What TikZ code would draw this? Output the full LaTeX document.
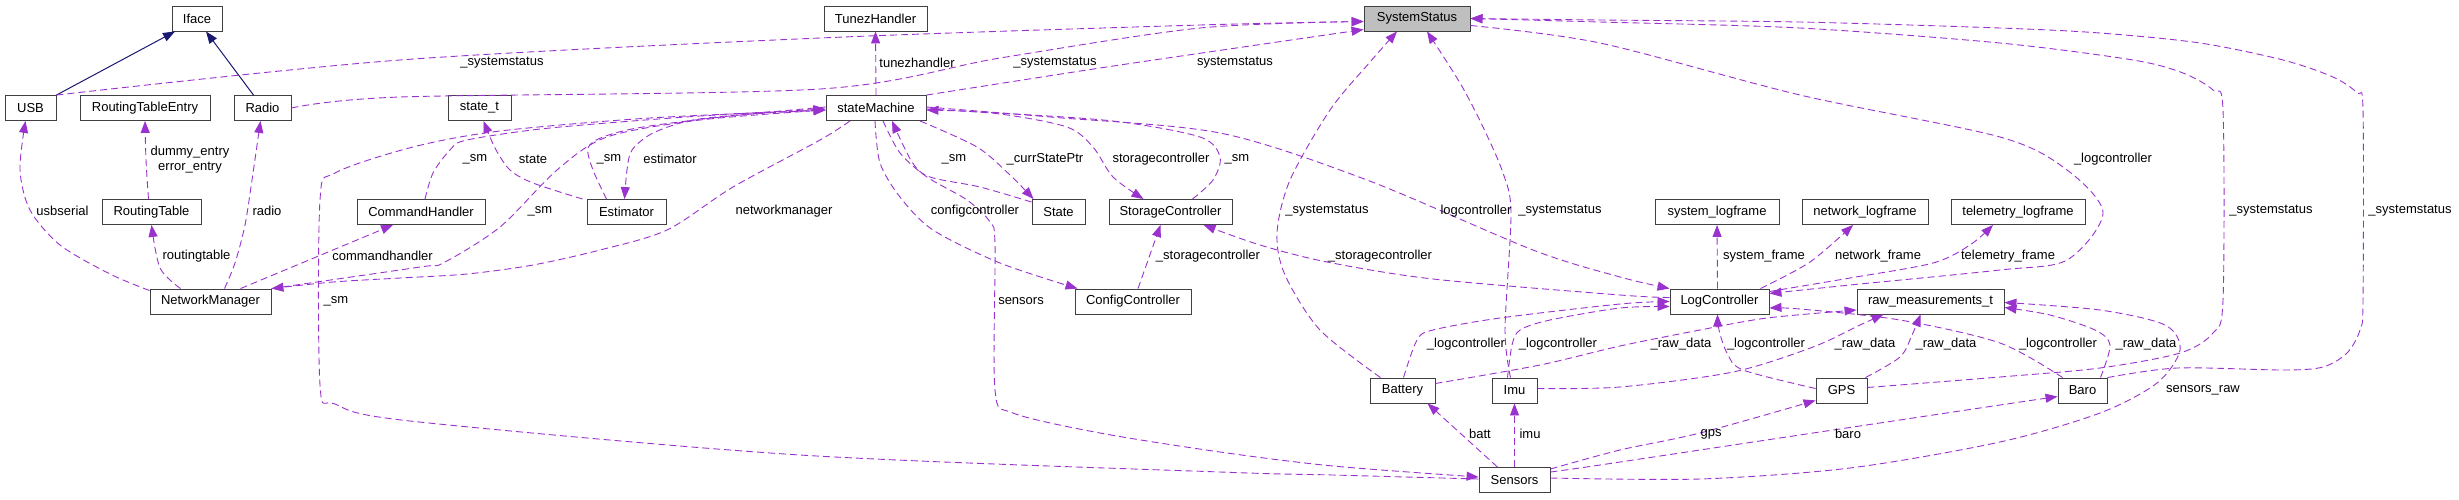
\documentclass[tikz,border=0pt]{standalone}
\usepackage{fontspec}
\setmainfont{Liberation Sans}
\usetikzlibrary{arrows.meta,calc}
\definecolor{dc}{HTML}{9A32CD}
\definecolor{ic}{HTML}{191970}
\begin{document}
\begin{tikzpicture}[x=1pt,y=-1pt, font=\fontsize{13}{15}\selectfont,
 box/.style={draw=black!75, line width=0.9pt, minimum height=25pt, inner sep=0pt},
 lbl/.style={inner sep=0pt, align=center},
 dep/.style={draw=dc, line width=0.9pt, dash pattern=on 7pt off 4pt, -{Triangle[length=12pt,width=9pt]}},
 inh/.style={draw=ic, line width=1pt, -{Triangle[length=12pt,width=9pt]}}]
\useasboundingbox (0,0) rectangle (2459,499);
% nodes
\node[box, minimum width=50pt] (Iface) at (197,18.5) {Iface};
\node[box, minimum width=51pt] (USB) at (30.5,108) {USB};
\node[box, minimum width=130pt] (RTE) at (145,108) {RoutingTableEntry};
\node[box, minimum width=57pt] (Radio) at (262.5,108) {Radio};
\node[box, minimum width=99pt] (RT) at (151.5,212) {RoutingTable};
\node[box, minimum width=121pt] (NM) at (210.5,301.5) {NetworkManager};
\node[box, minimum width=128pt] (CH) at (421,212) {CommandHandler};
\node[box, minimum width=63pt] (statet) at (479.5,108) {state\_t};
\node[box, minimum width=79pt] (Est) at (626.5,212) {Estimator};
\node[box, minimum width=103pt] (TH) at (875.5,18.5) {TunezHandler};
\node[box, minimum width=100pt] (SM) at (876,108) {stateMachine};
\node[box, minimum width=53pt] (State) at (1058.5,212) {State};
\node[box, minimum width=123pt] (StC) at (1170.5,212) {StorageController};
\node[box, minimum width=116pt] (CC) at (1133,301.5) {ConfigController};
\node[box, minimum width=106pt, fill=black!25] (SS) at (1417,18.5) {SystemStatus};
\node[box, minimum width=65pt] (Bat) at (1402.5,390.5) {Battery};
\node[box, minimum width=45pt] (Imu) at (1514.5,390.5) {Imu};
\node[box, minimum width=71pt] (Sen) at (1514.5,480) {Sensors};
\node[box, minimum width=124pt] (slf) at (1717,212) {system\_logframe};
\node[box, minimum width=126pt] (nlf) at (1865,212) {network\_logframe};
\node[box, minimum width=134pt] (tlf) at (2018,212) {telemetry\_logframe};
\node[box, minimum width=99pt] (LC) at (1719.5,301.5) {LogController};
\node[box, minimum width=147pt] (raw) at (1930.5,301.5) {raw\_measurements\_t};
\node[box, minimum width=51pt] (GPS) at (1841.5,390.5) {GPS};
\node[box, minimum width=49pt] (Baro) at (2082.5,390.5) {Baro};
% inheritance
\draw[inh] (USB.north east) -- ($(Iface.south)+(-22,0)$);
\draw[inh] ($(Radio.north)+(-9,0)$) -- ($(Iface.south)+(9,0)$);
% to SystemStatus
\draw[dep] plot[smooth] coordinates {(USB.north east) (400,60) (820,38) (1200,25) ($(SS.west)+(0,3)$)};
\draw[dep] plot[smooth] coordinates {(Radio.east) (400,97) (820,89) (1000,58) (1200,28) ($(SS.west)+(0,3)$)};
\draw[dep] plot[smooth] coordinates {(SM.north east) (1100,68) (1250,46) ($(SS.west)+(0,11)$)};
\draw[dep] plot[smooth] coordinates {($(Bat.north)+(-22,0)$) (1320,330) (1285,275) (1277,233) (1290,180) (1330,110) (1370,62) ($(SS.south)+(-20,0)$)};
\draw[dep] plot[smooth] coordinates {($(Imu.north)+(-4,0)$) (1505,330) (1511,213) (1503,173) (1483,127) (1460,83) ($(SS.south)+(10,0)$)};
\draw[dep] plot[smooth] coordinates {($(GPS.east)+(0,-3)$) (2000,377) (2100,368) (2180,353) (2213,333) (2223,300) (2223,110) (2213,90) (2183,73) (2133,60) (2000,43) (1800,28) (1600,22) (SS.east)};
\draw[dep] plot[smooth] coordinates {(Baro.north east) (2177,368) (2283,370) (2323,367) (2347,353) (2360,330) (2363,300) (2363,110) (2357,93) (2333,77) (2283,60) (2200,43) (2100,33) (2000,28) (1800,22) (1600,20) (SS.east)};
\draw[dep] plot[smooth] coordinates {($(SS.east)+(0,7)$) (1600,43) (1800,95) (2000,137) (2067,170) (2103,213) (2067,260) (2000,270) (1850,285) ($(LC.east)+(0,-8)$)};
% stateMachine neighbourhood
\draw[dep] (SM.north) -- (TH.south);
\draw[dep] plot[smooth] coordinates {($(RT.north)+(-3,0)$) (146,160) (RTE.south)};
\draw[dep] plot[smooth] coordinates {($(NM.north west)+(0,2)$) (110,274) (60,245) (30,210) (20,170) ($(USB.south)+(-5,0)$)};
\draw[dep] plot[smooth] coordinates {($(NM.north)+(-30,0)$) (160,268) (RT.south)};
\draw[dep] plot[smooth] coordinates {($(NM.north)+(14,0)$) (235,263) (245,225) (252,180) ($(Radio.south)+(-2,0)$)};
\draw[dep] ($(NM.north)+(30,0)$) -- ($(CH.south)+(-28,0)$);
\draw[dep] plot[smooth] coordinates {($(SM.south)+(-26,0)$) (820,140) (733,187) (667,230) (600,250) (533,265) (467,274) (400,278) (333,282) (NM.north east)};
\draw[dep] plot[smooth] coordinates {(NM.north east) (420,267) (443,263) (500,227) (557,170) (607,137) (700,120) ($(SM.west)+(0,2)$)};
\draw[dep] plot[smooth] coordinates {($(CH.north)+(4,0)$) (433,173) (450,150) (467,140) (550,128) (700,116) ($(SM.west)+(0,1)$)};
\draw[dep] plot[smooth] coordinates {($(Est.north)+(-20,0)$) (593,170) (588,148) (603,137) (643,127) (740,115) ($(SM.west)+(0,2)$)};
\draw[dep] plot[smooth] coordinates {($(SM.west)+(0,-1)$) (760,113) (693,120) (653,133) (632,150) (627,170) ($(Est.north)+(-2,0)$)};
\draw[dep] plot[smooth] coordinates {($(Est.north west)+(-4,0)$) (533,183) (510,170) (495,148) ($(statet.south)+(4,0)$)};
\draw[dep] plot[smooth] coordinates {($(Sen.west)+(0,-1)$) (1333,475) (1220,472) (800,455) (410,421) (335,404) (320,385) (320,200) (335,173) (413,147) (500,131) (650,118) ($(SM.west)+(0,2)$)};
\draw[dep] plot[smooth] coordinates {($(SM.south)+(7,0)$) (900,153) (927,177) (967,200) (990,222) (995,245) (995,390) (1013,413) (1100,433) (1220,452) (1333,466) ($(Sen.west)+(0,-3)$)};
\draw[dep] plot[smooth] coordinates {($(SM.south)+(44,0)$) (977,147) (1010,175) ($(State.north west)+(2,0)$)};
\draw[dep] plot[smooth] coordinates {($(State.north west)+(0,3)$) (980,187) (930,177) (912,162) ($(SM.south)+(16,0)$)};
\draw[dep] plot[smooth] coordinates {($(SM.east)+(0,1)$) (1000,114) (1067,127) (1093,147) (1113,177) ($(StC.north)+(-27,0)$)};
\draw[dep] plot[smooth] coordinates {($(StC.north)+(22,0)$) (1213,180) (1220,157) (1200,137) (1113,121) (980,112) ($(SM.east)+(0,2)$)};
\draw[dep] plot[smooth] coordinates {($(SM.south)+(-1,0)$) (880,163) (900,197) (933,230) (1000,263) ($(CC.north west)+(3,0)$)};
\draw[dep] ($(CC.north)+(5,0)$) -- ($(StC.south)+(-10,0)$);
\draw[dep] plot[smooth] coordinates {($(LC.west)+(0,-4)$) (1620,295) (1433,279) (1327,262) (1260,245) ($(StC.south)+(33,0)$)};
\draw[dep] plot[smooth] coordinates {($(SM.east)+(0,-1)$) (1050,117) (1220,133) (1367,180) (1533,250) (1620,277) (LC.north west)};
% LogController
\draw[dep] plot[smooth] coordinates {($(Bat.north)+(1,0)$) (1417,340) (1433,330) (1500,318) (1620,304) (LC.west)};
\draw[dep] plot[smooth] coordinates {($(Imu.north)+(-7,0)$) (1512,345) (1520,330) (1550,320) (1620,308) ($(LC.west)+(0,5)$)};
\draw[dep] plot[smooth] coordinates {($(GPS.west)+(0,-2)$) (1743,370) (1727,353) (1719,330) ($(LC.south)+(-2,0)$)};
\draw[dep] plot[smooth] coordinates {($(Baro.north west)+(5,0)$) (2000,343) (1900,320) (1800,309) ($(LC.east)+(0,6.5)$)};
\draw[dep] ($(LC.north)+(-2,0)$) -- (slf.south);
\draw[dep] plot[smooth] coordinates {($(LC.north east)+(-9,0)$) (1810,262) ($(nlf.south)+(-12,0)$)};
\draw[dep] plot[smooth] coordinates {($(LC.east)+(0,-10)$) (1850,278) (1933,263) (1970,245) ($(tlf.south)+(-25,0)$)};
% raw_measurements_t
\draw[dep] plot[smooth] coordinates {($(Bat.east)+(0,-7)$) (1540,365) (1620,346) (1700,330) (1767,318) ($(raw.west)+(0,8.5)$)};
\draw[dep] plot[smooth] coordinates {($(Imu.east)+(0,-2)$) (1620,387) (1733,372) (1813,347) (1860,325) ($(raw.south)+(-47,0)$)};
\draw[dep] plot[smooth] coordinates {($(GPS.north east)+(-2,0)$) (1900,357) (1912,335) ($(raw.south)+(-10,0)$)};
\draw[dep] plot[smooth] coordinates {($(Baro.north)+(18,0)$) (2110,345) (2095,330) (2050,315) ($(raw.east)+(0,6)$)};
\draw[dep] plot[smooth] coordinates {($(Sen.east)+(0,-2)$) (1700,479) (1850,468) (2000,442) (2100,413) (2157,383) (2180,350) (2165,325) (2100,310) ($(raw.east)+(0,1)$)};
% Sensors
\draw[dep] ($(Sen.north)+(-17,0)$) -- ($(Bat.south)+(25,0)$);
\draw[dep] (Sen.north) -- (Imu.south);
\draw[dep] plot[smooth] coordinates {($(Sen.east)+(0,-11)$) (1620,450) (1700,433) ($(GPS.south west)+(0,-3)$)};
\draw[dep] plot[smooth] coordinates {($(Sen.east)+(0,-8)$) (1600,465) (1833,430) (2000,405) ($(Baro.west)+(0,6)$)};
% labels
\node[lbl] (l1) at (502,63) {\_systemstatus};
\node[lbl] (l2) at (1055,63) {\_systemstatus};
\node[lbl] (l3) at (1235,63) {systemstatus};
\node[lbl] (l4) at (917,63) {tunezhandler};
\node[lbl] (l5) at (190,159.5) {dummy\_entry\\error\_entry};
\node[lbl] (l6) at (62.5,211) {usbserial};
\node[lbl] (l7) at (196.5,256) {routingtable};
\node[lbl] (l8) at (267,211) {radio};
\node[lbl] (l9) at (382.5,256) {commandhandler};
\node[lbl] (l10) at (336,301) {\_sm};
\node[lbl] (l11) at (475,159) {\_sm};
\node[lbl] (l12) at (540,211) {\_sm};
\node[lbl] (l13) at (609,159) {\_sm};
\node[lbl] (l14) at (954,159) {\_sm};
\node[lbl] (l15) at (1237,159) {\_sm};
\node[lbl] (l16) at (533,159) {state};
\node[lbl] (l17) at (670,159) {estimator};
\node[lbl] (l18) at (784,211) {networkmanager};
\node[lbl] (l19) at (1045,159) {\_currStatePtr};
\node[lbl] (l20) at (1161,159) {storagecontroller};
\node[lbl] (l21) at (975,211) {configcontroller};
\node[lbl] (l22) at (1021,301) {sensors};
\node[lbl] (l23) at (1208,256) {\_storagecontroller};
\node[lbl] (l24) at (1380,256) {\_storagecontroller};
\node[lbl] (l25) at (1327,211) {\_systemstatus};
\node[lbl] (l26) at (1476,211) {logcontroller};
\node[lbl] (l27) at (1560,211) {\_systemstatus};
\node[lbl] (l28) at (2113,159) {\_logcontroller};
\node[lbl] (l29) at (2271,211) {\_systemstatus};
\node[lbl] (l30) at (2410,211) {\_systemstatus};
\node[lbl] (l31) at (1764,256) {system\_frame};
\node[lbl] (l32) at (1878,256) {network\_frame};
\node[lbl] (l33) at (2008,256) {telemetry\_frame};
\node[lbl] (l34) at (1466,344) {\_logcontroller};
\node[lbl] (l35) at (1558,344) {\_logcontroller};
\node[lbl] (l36) at (1681,344) {\_raw\_data};
\node[lbl] (l37) at (1766,344) {\_logcontroller};
\node[lbl] (l38) at (1865,344) {\_raw\_data};
\node[lbl] (l39) at (1946,344) {\_raw\_data};
\node[lbl] (l40) at (2058,344) {\_logcontroller};
\node[lbl] (l41) at (2146,344) {\_raw\_data};
\node[lbl] (l42) at (2203,390) {sensors\_raw};
\node[lbl] (l43) at (1480,434) {batt};
\node[lbl] (l44) at (1530,434) {imu};
\node[lbl] (l45) at (1711,434) {gps};
\node[lbl] (l46) at (1848,434) {baro};
\end{tikzpicture}
\end{document}
